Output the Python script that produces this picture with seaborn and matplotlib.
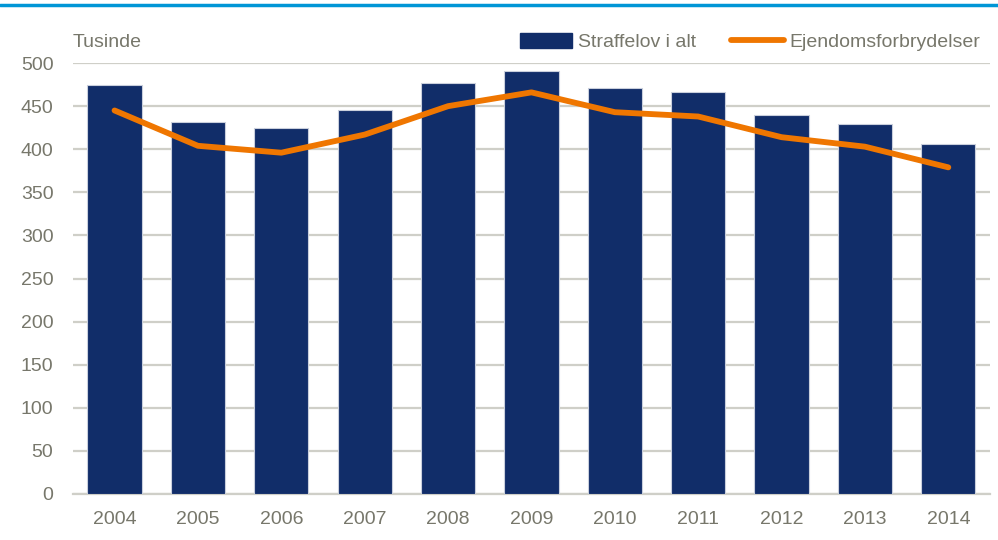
import matplotlib
matplotlib.use("Agg")
import matplotlib.pyplot as plt
import seaborn as sns
import pandas as pd
from matplotlib.lines import Line2D
from matplotlib.patches import Patch

years = ["2004", "2005", "2006", "2007", "2008", "2009", "2010", "2011", "2012", "2013", "2014"]
straffelov = [474, 432, 425, 445, 477, 491, 471, 467, 440, 429, 406]
ejendom = [445, 404, 396, 417, 450, 466, 443, 438, 414, 403, 379]
yticks = [0, 50, 100, 150, 200, 250, 300, 350, 400, 450, 500]

df = pd.DataFrame({"year": years, "straffelov": straffelov, "ejendom": ejendom})

sns.set_theme(style="white")
plt.rcParams["font.family"] = ["Liberation Sans Narrow", "Liberation Sans", "DejaVu Sans"]

TXT = "#77776b"
NAVY = "#112d69"
ORANGE = "#ef7600"
FS = 14

fig = plt.figure(figsize=(9.98, 5.40), dpi=100)
ax = fig.add_axes([0.073, 0.0852, 0.919, 0.798])

sns.barplot(data=df, x="year", y="straffelov", color=NAVY, saturation=1, width=0.65,
            edgecolor="#c9cfdc", linewidth=0.8, ax=ax, zorder=3)
sns.lineplot(x=list(range(len(years))), y=ejendom, color=ORANGE, linewidth=4.2,
             ax=ax, zorder=4, solid_capstyle="round", solid_joinstyle="round")

ax.set_ylim(0, 500)
ax.set_xlim(-0.5, len(years) - 0.5)
ax.set_yticks(yticks)
ax.set_yticklabels([str(v) for v in yticks])
ax.yaxis.grid(True, color="#cfcfc8", linewidth=1.6, zorder=0)
ax.set_axisbelow(True)
for s in ["top", "right", "left"]:
    ax.spines[s].set_visible(False)
ax.spines["bottom"].set_color("#cfcfc8")
ax.spines["bottom"].set_linewidth(1.6)
ax.tick_params(axis="both", length=0, labelsize=FS, colors=TXT)
ax.tick_params(axis="x", pad=12)
ax.tick_params(axis="y", pad=14)
ax.set_xlabel("")
ax.set_ylabel("")

fig.text(0.073, 0.922, "Tusinde", fontsize=FS, color=TXT, ha="left", va="center")

handles = [Patch(facecolor=NAVY, edgecolor=NAVY),
           Line2D([0], [0], color=ORANGE, linewidth=4.2, solid_capstyle="round")]
leg = fig.legend(handles, ["Straffelov i alt", "Ejendomsforbrydelser"], ncol=2,
                 loc="center right", bbox_to_anchor=(1.0, 0.922), frameon=False,
                 fontsize=FS, handlelength=2.7, handleheight=0.8, handletextpad=0.3,
                 columnspacing=1.8, labelcolor=TXT)

fig.add_artist(Line2D([0, 1], [0.99, 0.99], color="#0096d6", linewidth=2.5,
                      transform=fig.transFigure))

fig.savefig("out.png", dpi=100)
